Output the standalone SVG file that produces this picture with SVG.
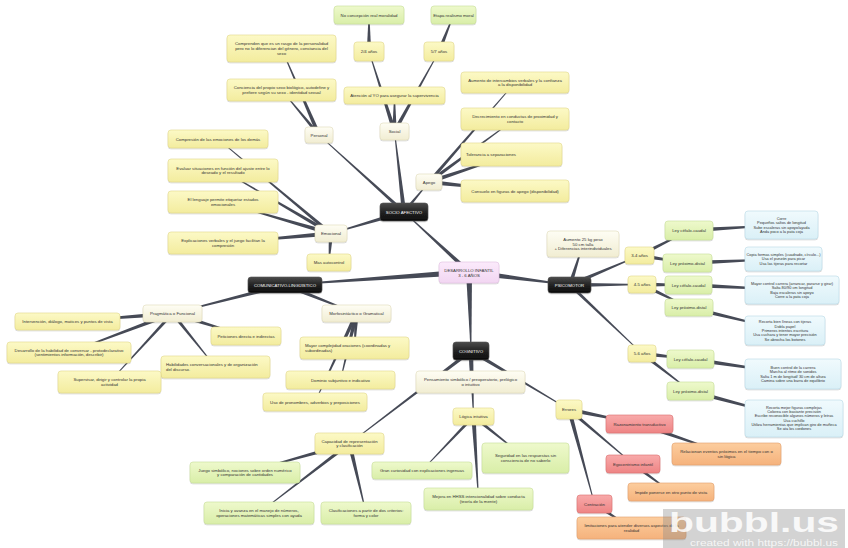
<svg xmlns="http://www.w3.org/2000/svg" width="848" height="548" viewBox="0 0 848 548">
<defs>
<linearGradient id="gy" x1="0" y1="0" x2="0" y2="1"><stop offset="0" stop-color="#fcf9c6"/><stop offset="1" stop-color="#f3ec9e"/></linearGradient>
<linearGradient id="gc" x1="0" y1="0" x2="0" y2="1"><stop offset="0" stop-color="#fefdf4"/><stop offset="1" stop-color="#f1edd2"/></linearGradient>
<linearGradient id="gg" x1="0" y1="0" x2="0" y2="1"><stop offset="0" stop-color="#eef9cc"/><stop offset="1" stop-color="#d9eea8"/></linearGradient>
<linearGradient id="gb" x1="0" y1="0" x2="0" y2="1"><stop offset="0" stop-color="#f0fafd"/><stop offset="1" stop-color="#daf0f7"/></linearGradient>
<linearGradient id="gr" x1="0" y1="0" x2="0" y2="1"><stop offset="0" stop-color="#f8aaaa"/><stop offset="1" stop-color="#ee8484"/></linearGradient>
<linearGradient id="go" x1="0" y1="0" x2="0" y2="1"><stop offset="0" stop-color="#fccd9e"/><stop offset="1" stop-color="#f5b27c"/></linearGradient>
<linearGradient id="gk" x1="0" y1="0" x2="0" y2="1"><stop offset="0" stop-color="#4c4c4c"/><stop offset="0.5" stop-color="#222"/><stop offset="1" stop-color="#0c0c0c"/></linearGradient>
<linearGradient id="gp" x1="0" y1="0" x2="0" y2="1"><stop offset="0" stop-color="#fbeafb"/><stop offset="1" stop-color="#f2d6f2"/></linearGradient>
<filter id="sh" x="-10%" y="-20%" width="120%" height="150%"><feDropShadow dx="0" dy="0.8" stdDeviation="0.7" flood-color="#000" flood-opacity="0.22"/></filter>
</defs>
<style>
.node rect{stroke-width:0.6;filter:url(#sh)}
.y{fill:url(#gy);stroke:#e2d98c}
.c{fill:url(#gc);stroke:#e0dbbb}
.g{fill:url(#gg);stroke:#c7df98}
.b{fill:url(#gb);stroke:#b8dae7}
.r{fill:url(#gr);stroke:#dc7070}
.o{fill:url(#go);stroke:#e2a06c}
.k{fill:url(#gk);stroke:#555}
.p{fill:url(#gp);stroke:#e0c0e0}
text{font-family:"Liberation Sans",Arial,sans-serif;font-size:4.3px;fill:#333;text-anchor:middle}
.w{fill:#fff}
.l{text-anchor:start}
.s{font-size:3.9px}
#connectors polygon{fill:#464a56}
</style>
<rect width="848" height="548" fill="#fff"/>
<g id="connectors">
<polygon points="469,269 404,211.6 404,212.4 469,275"/>
<polygon points="469,269 285,284.6 285,285.4 469,275"/>
<polygon points="469,269 570,284.6 570,285.4 469,275"/>
<polygon points="466,272 470.6,351 471.4,351 472,272"/>
<polygon points="404,209.8 319,134.6 319,135.4 404,214.2"/>
<polygon points="401.8,212 394.1,131.5 394.9,131.5 406.2,212"/>
<polygon points="401.8,212 428.6,182 429.4,182 406.2,212"/>
<polygon points="404,209.8 331,233.1 331,233.9 404,214.2"/>
<polygon points="316.8,135 281.1,48.5 281.9,48.5 321.2,135"/>
<polygon points="316.8,135 281.1,90 281.9,90 321.2,135"/>
<polygon points="392.3,131.5 394.1,95.5 394.9,95.5 396.7,131.5"/>
<polygon points="392.3,131.5 368.6,51.5 369.4,51.5 396.7,131.5"/>
<polygon points="392.3,131.5 438.6,51.5 439.4,51.5 396.7,131.5"/>
<polygon points="366.8,51.5 368.6,15 369.4,15 371.2,51.5"/>
<polygon points="436.8,51.5 453.1,15 453.9,15 441.2,51.5"/>
<polygon points="426.8,182 514.6,82.5 515.4,82.5 431.2,182"/>
<polygon points="429,179.8 515,118.6 515,119.4 429,184.2"/>
<polygon points="429,179.8 511.5,154.1 511.5,154.9 429,184.2"/>
<polygon points="429,179.8 515,190.6 515,191.4 429,184.2"/>
<polygon points="331,231.3 218,138.6 218,139.4 331,235.7"/>
<polygon points="331,231.3 223,170.1 223,170.9 331,235.7"/>
<polygon points="331,231.3 223,201.6 223,202.4 331,235.7"/>
<polygon points="331,231.3 223,242.6 223,243.4 331,235.7"/>
<polygon points="328.8,233.5 328.6,262.5 329.4,262.5 333.2,233.5"/>
<polygon points="285,282.8 172.5,313.1 172.5,313.9 285,287.2"/>
<polygon points="285,282.8 356.5,313.1 356.5,313.9 285,287.2"/>
<polygon points="172.5,311.3 67.5,321.1 67.5,321.9 172.5,315.7"/>
<polygon points="172.5,311.3 246,335.6 246,336.4 172.5,315.7"/>
<polygon points="172.5,311.3 69,352.1 69,352.9 172.5,315.7"/>
<polygon points="170.3,313.5 215.1,367 215.9,367 174.7,313.5"/>
<polygon points="170.3,313.5 109.1,382 109.9,382 174.7,313.5"/>
<polygon points="354.3,313.5 354.1,348 354.9,348 358.7,313.5"/>
<polygon points="354.3,313.5 340.1,380 340.9,380 358.7,313.5"/>
<polygon points="354.3,313.5 314.6,402 315.4,402 358.7,313.5"/>
<polygon points="567.8,285 582.6,244 583.4,244 572.2,285"/>
<polygon points="570,282.8 639.5,255.1 639.5,255.9 570,287.2"/>
<polygon points="570,282.8 642,284.1 642,284.9 570,287.2"/>
<polygon points="570,282.8 642,353.1 642,353.9 570,287.2"/>
<polygon points="639.5,253.3 689,230.1 689,230.9 639.5,257.7"/>
<polygon points="639.5,253.3 687.5,262.6 687.5,263.4 639.5,257.7"/>
<polygon points="642,282.3 688.5,284.6 688.5,285.4 642,286.7"/>
<polygon points="642,282.3 689,307.1 689,307.9 642,286.7"/>
<polygon points="642,351.3 690.5,358.6 690.5,359.4 642,355.7"/>
<polygon points="642,351.3 690.5,390.6 690.5,391.4 642,355.7"/>
<polygon points="689,228.3 781.5,224.6 781.5,225.4 689,232.7"/>
<polygon points="687.5,260.8 783.5,258.6 783.5,259.4 687.5,265.2"/>
<polygon points="688.5,282.8 792,289.6 792,290.4 688.5,287.2"/>
<polygon points="689,305.3 785,330.1 785,330.9 689,309.7"/>
<polygon points="690.5,356.8 793,373.6 793,374.4 690.5,361.2"/>
<polygon points="690.5,388.8 794,418.1 794,418.9 690.5,393.2"/>
<polygon points="468.8,351 470.1,382 470.9,382 473.2,351"/>
<polygon points="471,348.8 349.5,443.1 349.5,443.9 471,353.2"/>
<polygon points="468.8,351 473.1,416.5 473.9,416.5 473.2,351"/>
<polygon points="471,348.8 569,409.1 569,409.9 471,353.2"/>
<polygon points="349.5,441.3 245,472.1 245,472.9 349.5,445.7"/>
<polygon points="349.5,441.3 259,512.6 259,513.4 349.5,445.7"/>
<polygon points="347.3,443.5 365.6,513 366.4,513 351.7,443.5"/>
<polygon points="471.3,416.5 421.6,470.5 422.4,470.5 475.7,416.5"/>
<polygon points="471.3,416.5 478.1,499 478.9,499 475.7,416.5"/>
<polygon points="473.5,414.3 525.5,457.6 525.5,458.4 473.5,418.7"/>
<polygon points="569,407.3 639.5,423.6 639.5,424.4 569,411.7"/>
<polygon points="569,407.3 633,463.6 633,464.4 569,411.7"/>
<polygon points="566.8,409.5 594.1,504 594.9,504 571.2,409.5"/>
<polygon points="639.5,421.8 726.5,453.6 726.5,454.4 639.5,426.2"/>
<polygon points="633,461.8 671,491.6 671,492.4 633,466.2"/>
<polygon points="594.5,501.8 631.5,527.6 631.5,528.4 594.5,506.2"/>
</g>

<g id="n-root" class="node"><rect class="p" x="439" y="262" width="60" height="21" rx="3"/><text x="469" y="271.5">DESARROLLO INFANTIL</text><text x="469" y="276.5">3 - 6 AÑOS</text></g>
<g id="n-socio" class="node"><rect class="k" x="380" y="203" width="48" height="18" rx="3"/><text class="w" x="404" y="213.5">SOCIO AFECTIVO</text></g>
<g id="n-comunicativo" class="node"><rect class="k" x="248" y="277" width="74" height="16" rx="3"/><text class="w" x="285" y="286.5">COMUNICATIVO-LINGÜÍSTICO</text></g>
<g id="n-psicomotor" class="node"><rect class="k" x="548" y="277" width="43" height="16" rx="3"/><text class="w" x="569.5" y="286.5">PSICOMOTOR</text></g>
<g id="n-cognitivo" class="node"><rect class="k" x="453" y="342" width="36" height="18" rx="3"/><text class="w" x="471" y="352.5">COGNITIVO</text></g>

<g id="n-personal" class="node"><rect class="c" x="305" y="127" width="28" height="16" rx="3"/><text x="319" y="136.5">Personal</text></g>
<g id="n-social" class="node"><rect class="c" x="380" y="123" width="29" height="17" rx="3"/><text x="394.5" y="133">Social</text></g>
<g id="n-apego" class="node"><rect class="c" x="416" y="174" width="26" height="16" rx="3"/><text x="429" y="183.5">Apego</text></g>
<g id="n-emocional" class="node"><rect class="c" x="315" y="225" width="32" height="17" rx="3"/><text x="331" y="235">Emocional</text></g>

<g id="n-comprenden" class="node"><rect class="y" x="227" y="35" width="109" height="27" rx="3"/><text x="281.5" y="45.1">Comprenden que es un rasgo de la personalidad</text><text x="281.5" y="50">pero no lo diferencian del género, constancia del</text><text x="281.5" y="54.9">sexo</text></g>
<g id="n-conciencia" class="node"><rect class="y" x="227" y="79" width="109" height="22" rx="3"/><text x="281.5" y="89.05">Conciencia del propio sexo biológico, autodefine y</text><text x="281.5" y="93.95">prefiere según su sexo - identidad sexual</text></g>
<g id="n-atencion" class="node"><rect class="y" x="344" y="87" width="101" height="17" rx="3"/><text x="394.5" y="97">Atención al YO para asegurar la supervivencia</text></g>
<g id="n-24" class="node"><rect class="y" x="354" y="42" width="30" height="19" rx="3"/><text x="369" y="53">2/4 años</text></g>
<g id="n-57" class="node"><rect class="y" x="424" y="42" width="30" height="19" rx="3"/><text x="439" y="53">5/7 años</text></g>
<g id="n-noconcepcion" class="node"><rect class="g" x="334" y="6" width="70" height="18" rx="3"/><text x="369" y="16.5">No concepción real moralidad</text></g>
<g id="n-etapa" class="node"><rect class="g" x="431" y="6" width="45" height="18" rx="3"/><text x="453.5" y="16.5">Etapa realismo moral</text></g>
<g id="n-aumentoint" class="node"><rect class="y" x="461" y="72" width="108" height="21" rx="3"/><text x="515" y="81.5">Aumento de intercambios verbales y la confianza</text><text x="515" y="86.4">a la disponibilidad</text></g>
<g id="n-decrec" class="node"><rect class="y" x="461" y="108" width="108" height="22" rx="3"/><text x="515" y="118">Decrecimiento en conductas de proximidad y</text><text x="515" y="122.9">contacto</text></g>
<g id="n-tolerancia" class="node"><rect class="y" x="461" y="143" width="101" height="23" rx="3"/><text class="l" x="466" y="156">Tolerancia a separaciones</text></g>
<g id="n-consuelo" class="node"><rect class="y" x="461" y="180" width="108" height="22" rx="3"/><text x="515" y="192.5">Consuelo en figuras de apego (disponibilidad)</text></g>
<g id="n-compresion" class="node"><rect class="y" x="168" y="130" width="100" height="18" rx="3"/><text x="218" y="140.5">Compresión de las emociones de los demás</text></g>
<g id="n-evaluar" class="node"><rect class="y" x="168" y="159" width="110" height="23" rx="3"/><text x="223" y="169.55">Evaluar situaciones en función del ajuste entre lo</text><text x="223" y="174.45">deseado y el resultado</text></g>
<g id="n-lenguaje" class="node"><rect class="y" x="168" y="191" width="110" height="22" rx="3"/><text x="223" y="201.05">El lenguaje permite etiquetar estados</text><text x="223" y="205.95">emocionales</text></g>
<g id="n-explicaciones" class="node"><rect class="y" x="168" y="232" width="110" height="22" rx="3"/><text x="223" y="242.05">Explicaciones verbales y el juego facilitan la</text><text x="223" y="246.95">compresión</text></g>
<g id="n-autocontrol" class="node"><rect class="y" x="307" y="254" width="44" height="17" rx="3"/><text x="329" y="264">Mas autocontrol</text></g>

<g id="n-pragmatica" class="node"><rect class="c" x="143" y="305" width="59" height="17" rx="3"/><text x="172.5" y="315">Pragmática o Funcional</text></g>
<g id="n-morfo" class="node"><rect class="c" x="322" y="305" width="69" height="17" rx="3"/><text x="356.5" y="315">Morfosintáctico o Gramatical</text></g>
<g id="n-intervencion" class="node"><rect class="y" x="15" y="313" width="105" height="17" rx="3"/><text x="67.5" y="323">Intervención, diálogo, matices y puntos de vista</text></g>
<g id="n-peticiones" class="node"><rect class="y" x="211" y="327" width="70" height="18" rx="3"/><text x="246" y="337.5">Peticiones directa e indirectas</text></g>
<g id="n-desarrollo" class="node"><rect class="y" x="7" y="342" width="124" height="21" rx="3"/><text x="69" y="351.55">Desarrollo de la habilidad de conversar - protodeclarativo</text><text x="69" y="356.45">(sentimientos información, describir)</text></g>
<g id="n-habilidades" class="node"><rect class="y" x="161" y="356" width="109" height="22" rx="3"/><text class="l" x="166" y="366.05">Habilidades conversacionales y de organización</text><text class="l" x="166" y="370.95">del discurso.</text></g>
<g id="n-supervisar" class="node"><rect class="y" x="58" y="371" width="103" height="22" rx="3"/><text x="109.5" y="381.05">Supervisar, dirigir y controlar la propia</text><text x="109.5" y="385.95">actividad</text></g>
<g id="n-mayor" class="node"><rect class="y" x="300" y="337" width="109" height="22" rx="3"/><text class="l" x="305" y="347.05">Mayor complejidad oraciones (coordinadas y</text><text class="l" x="305" y="351.95">subordinadas)</text></g>
<g id="n-dominio" class="node"><rect class="y" x="286" y="371" width="109" height="18" rx="3"/><text x="340.5" y="381.5">Dominio subjuntivo e indicativo</text></g>
<g id="n-uso" class="node"><rect class="y" x="263" y="393" width="104" height="18" rx="3"/><text x="315" y="403.5">Uso de pronombres, adverbios y preposiciones</text></g>

<g id="n-aumento25" class="node"><rect class="c" x="547" y="231" width="72" height="26" rx="3"/><text x="583" y="240.6">Aumento 25 kg peso</text><text x="583" y="245.5">50 cm talla</text><text x="583" y="250.4">+ Diferencias interindividuales</text></g>
<g id="n-34" class="node"><rect class="y" x="625" y="247" width="29" height="17" rx="3"/><text x="639.5" y="257">3-4 años</text></g>
<g id="n-45" class="node"><rect class="y" x="628" y="276" width="28" height="17" rx="3"/><text x="642" y="286">4-5 años</text></g>
<g id="n-56" class="node"><rect class="y" x="628" y="345" width="28" height="17" rx="3"/><text x="642" y="355">5-6 años</text></g>
<g id="n-lcc1" class="node"><rect class="g" x="665" y="221" width="48" height="19" rx="3"/><text x="689" y="232">Ley céfalo-caudal</text></g>
<g id="n-lpd1" class="node"><rect class="g" x="663" y="254" width="49" height="18" rx="3"/><text x="687.5" y="264.5">Ley próximo-distal</text></g>
<g id="n-lcc2" class="node"><rect class="g" x="665" y="276" width="47" height="18" rx="3"/><text x="688.5" y="286.5">Ley céfalo-caudal</text></g>
<g id="n-lpd2" class="node"><rect class="g" x="665" y="299" width="48" height="17" rx="3"/><text x="689" y="309">Ley próximo-distal</text></g>
<g id="n-lcc3" class="node"><rect class="g" x="667" y="350" width="47" height="18" rx="3"/><text x="690.5" y="360.5">Ley céfalo-caudal</text></g>
<g id="n-lpd3" class="node"><rect class="g" x="667" y="382" width="47" height="18" rx="3"/><text x="690.5" y="392.5">Ley próximo-distal</text></g>
<g id="n-b1" class="node"><rect class="b" x="745" y="211" width="73" height="28" rx="3"/><text class="s" x="781.5" y="220">Corre</text><text class="s" x="781.5" y="224.3">Pequeños saltos de longitud</text><text class="s" x="781.5" y="228.6">Sube escaleras sin apoyo/ayuda</text><text class="s" x="781.5" y="232.9">Anda poco a la pata coja</text></g>
<g id="n-b2" class="node"><rect class="b" x="745" y="247" width="77" height="24" rx="3"/><text class="s" x="783.5" y="256.1">Copia formas simples (cuadrado, círculo...)</text><text class="s" x="783.5" y="260.4">Usa el punzón para picar</text><text class="s" x="783.5" y="264.7">Usa las tijeras para recortar</text></g>
<g id="n-b3" class="node"><rect class="b" x="745" y="276" width="94" height="28" rx="3"/><text class="s" x="792" y="285">Mayor control carrera (arrancar, pararse y girar)</text><text class="s" x="792" y="289.3">Salta 80/90 cm longitud</text><text class="s" x="792" y="293.6">Baja escaleras sin apoyo</text><text class="s" x="792" y="297.9">Corre a la pata coja</text></g>
<g id="n-b4" class="node"><rect class="b" x="745" y="316" width="80" height="29" rx="3"/><text class="s" x="785" y="323.3">Recorta bien líneas con tijeras</text><text class="s" x="785" y="327.6">Dobla papel</text><text class="s" x="785" y="331.9">Primeros intentos escritura</text><text class="s" x="785" y="336.2">Usa cuchara y tener mayor precisión</text><text class="s" x="785" y="340.5">Se abrocha los botones</text></g>
<g id="n-b5" class="node"><rect class="b" x="745" y="359" width="96" height="30" rx="3"/><text class="s" x="793" y="369">Buen control de la carrera</text><text class="s" x="793" y="373.3">Marcha al ritmo de sonidos</text><text class="s" x="793" y="377.6">Salta 1 m de longitud/ 30 cm de altura</text><text class="s" x="793" y="381.9">Camina sobre una barra de equilibrio</text></g>
<g id="n-b6" class="node"><rect class="b" x="745" y="400" width="98" height="37" rx="3"/><text class="s" x="794" y="408.6">Recorta mejor figuras complejas</text><text class="s" x="794" y="412.9">Colorea con bastante precisión</text><text class="s" x="794" y="417.2">Escribe reconocible algunos números y letras</text><text class="s" x="794" y="421.5">Usa cuchillo</text><text class="s" x="794" y="425.8">Utiliza herramientas que implican giro de muñeca</text><text class="s" x="794" y="430.1">Se ata los cordones</text></g>

<g id="n-pensamiento" class="node"><rect class="c" x="416" y="371" width="109" height="22" rx="3"/><text x="470.5" y="381.05">Pensamiento simbólico / preoperatorio, prelógico</text><text x="470.5" y="385.95">o intuitivo</text></g>
<g id="n-errores" class="node"><rect class="y" x="556" y="400" width="26" height="19" rx="3"/><text x="569" y="411">Errores</text></g>
<g id="n-capacidad" class="node"><rect class="y" x="315" y="433" width="69" height="21" rx="3"/><text x="349.5" y="442.55">Capacidad de representación</text><text x="349.5" y="447.45">y clasificación</text></g>
<g id="n-logica" class="node"><rect class="y" x="453" y="408" width="41" height="17" rx="3"/><text x="473.5" y="418">Lógica intuitiva</text></g>
<g id="n-juego" class="node"><rect class="g" x="190" y="462" width="110" height="21" rx="3"/><text x="245" y="471.55">Juego simbólico, nociones sobre orden numérico</text><text x="245" y="476.45">y comparación de cantidades</text></g>
<g id="n-inicia" class="node"><rect class="g" x="204" y="502" width="110" height="22" rx="3"/><text x="259" y="512.05">Inicia y avanza en el manejo de números,</text><text x="259" y="516.95">operaciones matemáticas simples con ayuda</text></g>
<g id="n-clasificaciones" class="node"><rect class="g" x="321" y="502" width="90" height="22" rx="3"/><text x="366" y="512.05">Clasificaciones a partir de dos criterios:</text><text x="366" y="516.95">forma y color</text></g>
<g id="n-curiosidad" class="node"><rect class="g" x="372" y="462" width="100" height="17" rx="3"/><text x="422" y="472">Gran curiosidad con explicaciones ingenuas</text></g>
<g id="n-mejora" class="node"><rect class="g" x="424" y="488" width="109" height="22" rx="3"/><text x="478.5" y="498.05">Mejora en HHSS intencionalidad sobre conducta</text><text x="478.5" y="502.95">(teoría de la mente)</text></g>
<g id="n-seguridad" class="node"><rect class="g" x="482" y="443" width="87" height="30" rx="3"/><text x="525.5" y="457.05">Seguridad en las respuestas sin</text><text x="525.5" y="461.95">consciencia de no saberlo</text></g>
<g id="n-razonamiento" class="node"><rect class="r" x="606" y="415" width="67" height="18" rx="3"/><text x="639.5" y="425.5">Razonamiento transductivo</text></g>
<g id="n-egocentrismo" class="node"><rect class="r" x="606" y="455" width="54" height="18" rx="3"/><text x="633" y="465.5">Egocentrismo infantil</text></g>
<g id="n-centracion" class="node"><rect class="r" x="577" y="495" width="35" height="18" rx="3"/><text x="594.5" y="505.5">Centración</text></g>
<g id="n-relacionan" class="node"><rect class="o" x="672" y="443" width="109" height="22" rx="3"/><text x="726.5" y="453.05">Relacionan eventos próximos en el tiempo con o</text><text x="726.5" y="457.95">sin lógica</text></g>
<g id="n-impide" class="node"><rect class="o" x="628" y="483" width="86" height="18" rx="3"/><text x="671" y="493.5">Impide ponerse en otro punto de vista</text></g>
<g id="n-limitaciones" class="node"><rect class="o" x="577" y="517" width="109" height="22" rx="3"/><text x="631.5" y="527.05">limitaciones para atender diversos aspectos de la</text><text x="631.5" y="531.95">realidad</text></g>

<g id="watermark">
<rect x="663" y="509" width="182" height="39" fill="#8c8c8c" fill-opacity="0.38"/>
<text x="754" y="532" style="font-size:27px;font-weight:bold;fill:#fff;fill-opacity:0.85" textLength="170" lengthAdjust="spacingAndGlyphs">bubbl.us</text>
<text x="764" y="546" style="font-size:8.5px;fill:#fff;fill-opacity:0.8" textLength="148" lengthAdjust="spacingAndGlyphs">created with https://bubbl.us</text>
</g>
</svg>
